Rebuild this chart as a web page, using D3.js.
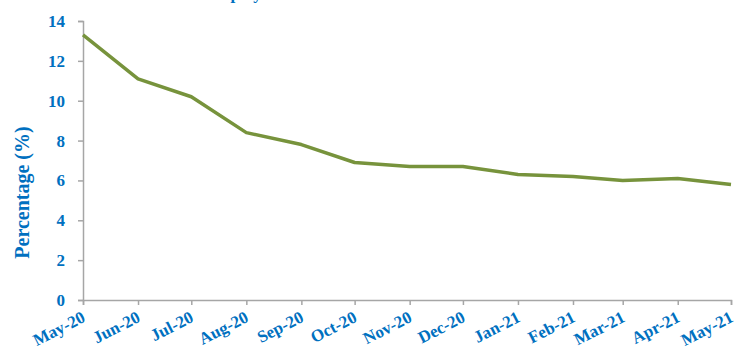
<!DOCTYPE html>
<html>
<head>
<meta charset="utf-8">
<script src="https://cdn.jsdelivr.net/npm/d3@7"></script>
<style>
  html, body { margin: 0; padding: 0; background: #fff; }
  svg { display: block; }
  text { font-family: "Liberation Serif", "Times New Roman", serif; font-weight: bold; fill: #0070C0; }
</style>
</head>
<body>
<svg id="chart" width="749" height="350"></svg>
<script>
// Monthly unemployment rate, May 2020 – May 2021
const months = ["May-20", "Jun-20", "Jul-20", "Aug-20", "Sep-20", "Oct-20", "Nov-20",
                "Dec-20", "Jan-21", "Feb-21", "Mar-21", "Apr-21", "May-21"];
const rates = [13.3, 11.1, 10.2, 8.4, 7.8, 6.9, 6.7, 6.7, 6.3, 6.2, 6.0, 6.1, 5.8];
const yTicks = [0, 2, 4, 6, 8, 10, 12, 14];
const title = "Unemployment Rate";
const yTitle = "Percentage (%)";

const parse = d3.timeParse("%b-%y");
const data = months.map((m, i) => ({ date: parse(m), label: m, value: rates[i] }));

const svg = d3.select("#chart");
const margin = { left: 83, right: 18, top: 21, bottom: 50 };
const W = 749, H = 350;

const x = d3.scaleTime()
  .domain(d3.extent(data, d => d.date))
  .range([margin.left, W - margin.right]);
const y = d3.scaleLinear()
  .domain([0, 14])
  .range([H - margin.bottom, margin.top]);

// title sits above the plotting area
svg.append("text")
  .attr("x", 262).attr("y", -1)
  .attr("text-anchor", "middle")
  .style("font-size", "17px")
  .text(title);

// y axis
const yAxis = svg.append("g")
  .attr("transform", `translate(${margin.left},0)`)
  .call(d3.axisLeft(y).tickValues(yTicks).tickFormat(d3.format("d")).tickSize(5).tickPadding(13));
yAxis.select(".domain").attr("stroke", "#a6a6a6").attr("stroke-width", 1.5);
yAxis.selectAll(".tick line").attr("stroke", "#a6a6a6").attr("stroke-width", 1.5);
yAxis.selectAll(".tick text")
  .style("font-size", "17px")
  .style("font-family", "'Liberation Serif', serif")
  .attr("fill", "#0070C0");

// x axis
const xAxis = svg.append("g")
  .attr("transform", `translate(0,${H - margin.bottom})`)
  .call(d3.axisBottom(x).tickValues(data.map(d => d.date))
    .tickFormat(d3.timeFormat("%b-%y")).tickSize(5));
xAxis.select(".domain").attr("stroke", "#a6a6a6").attr("stroke-width", 1.5);
xAxis.selectAll(".tick line").attr("stroke", "#a6a6a6").attr("stroke-width", 1.5);
xAxis.selectAll(".tick text")
  .style("font-size", "17px")
  .style("font-family", "'Liberation Serif', serif")
  .attr("fill", "#0070C0")
  .attr("text-anchor", "end")
  .attr("x", -7)
  .attr("y", 20)
  .attr("dy", 0)
  .attr("transform", "rotate(-27)");

// y axis title
svg.append("text")
  .attr("transform", `translate(29,${(margin.top + H - margin.bottom) / 2 + 32}) rotate(-90)`)
  .attr("text-anchor", "middle")
  .style("font-size", "20px")
  .text(yTitle);

// rate line
const line = d3.line().x(d => x(d.date)).y(d => y(d.value));
svg.append("path")
  .datum(data)
  .attr("fill", "none")
  .attr("stroke", "#77933C")
  .attr("stroke-width", 3.5)
  .attr("stroke-linejoin", "round")
  .attr("d", line);
</script>
</body>
</html>
